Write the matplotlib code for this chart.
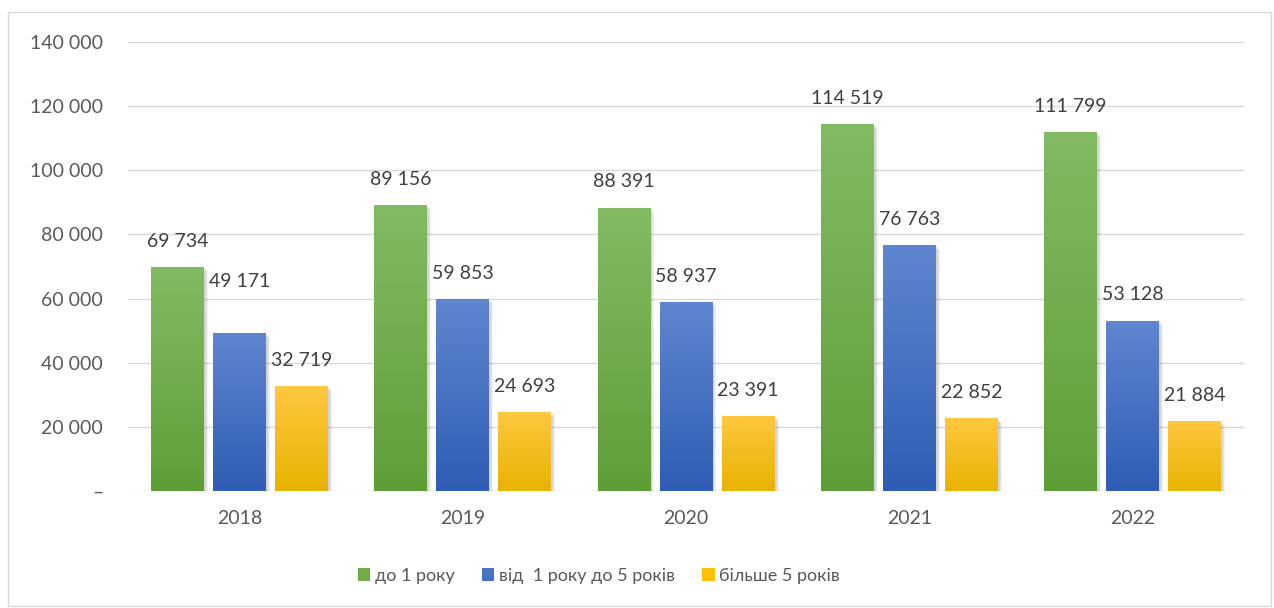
import numpy as np
import matplotlib
matplotlib.use('Agg')
import matplotlib.pyplot as plt
import matplotlib.patches as mpatches
import matplotlib.transforms as mtransforms
from matplotlib.colors import LinearSegmentedColormap
from matplotlib.ticker import FuncFormatter

# ------------------------------------------------------------------
# Daten
# ------------------------------------------------------------------
years = ['2018', '2019', '2020', '2021', '2022']
series_names = ['до 1 року', 'від  1 року до 5 років', 'більше 5 років']
do_1_roku = [69734, 89156, 88391, 114519, 111799]
vid_1_do_5 = [49171, 59853, 58937, 76763, 53128]
bilshe_5 = [32719, 24693, 23391, 22852, 21884]
values = [do_1_roku, vid_1_do_5, bilshe_5]

# Farbverlauf (oben -> unten) je Serie
gradients = [('#82bb63', '#5e9e36'),
             ('#5f86cf', '#2f5db5'),
             ('#ffc840', '#e8b300')]
legend_colors = ['#70ad47', '#4472c4', '#ffc000']

plt.rcParams['font.family'] = ['Lato', 'DejaVu Sans']

fig = plt.figure(figsize=(12.74, 6.08), dpi=100)
ax = fig.add_axes([0.1005, 0.1924, 0.876, 0.7385])

x = np.arange(len(years))
step = 0.278
width = 0.237

for i, (vals, (top, bottom)) in enumerate(zip(values, gradients)):
    pos = x + (i - 1) * step
    bars = ax.bar(pos, vals, width=width, color='none', zorder=3, label=series_names[i])
    cmap = LinearSegmentedColormap.from_list('g%d' % i, [bottom, top])
    for b, v in zip(bars, vals):
        x0 = b.get_x()
        # weicher Schatten rechts / unten
        for k, a in [(4, 0.10), (3, 0.12), (2, 0.14)]:
            off = mtransforms.offset_copy(ax.transData, fig=fig, x=k * 0.72, y=-k * 0.72, units='points')
            sh = mpatches.Rectangle((x0, 0), width, v, transform=off,
                                    facecolor='#808080', edgecolor='none', alpha=a, zorder=2)
            ax.add_patch(sh)
        grad = np.linspace(0, 1, 256).reshape(-1, 1)
        im = ax.imshow(grad, cmap=cmap, origin='lower', aspect='auto',
                       extent=[x0, x0 + width, 0, v], zorder=3)
        im.set_clip_path(b)
        # Datenbeschriftung
        dy = 18.5
        if i == 1 and v == 49171:
            dy = 37
        ax.annotate(f'{v:,}'.replace(',', ' '), (x0 + width / 2, v),
                    xytext=(0, dy), textcoords='offset points',
                    ha='center', va='center', fontsize=14, color='#404040', zorder=5)

ax.set_xlim(-0.5, 4.5)
ax.set_ylim(0, 140000)
ax.set_yticks(range(0, 140001, 20000))
ax.yaxis.set_major_formatter(FuncFormatter(lambda v, p: '–' if v == 0 else f'{int(v):,}'.replace(',', ' ')))
ax.set_xticks(x)
ax.set_xticklabels(years)
ax.tick_params(axis='both', length=0, labelsize=14, labelcolor='#595959')
ax.tick_params(axis='y', pad=18)
ax.tick_params(axis='x', pad=14)
ax.grid(axis='y', color='#d9d9d9', linewidth=1, zorder=0)
ax.set_axisbelow(True)
for s in ax.spines.values():
    s.set_visible(False)

# Legende
handles = [mpatches.Patch(facecolor=c, edgecolor='none') for c in legend_colors]
fig.legend(handles, series_names, loc='center', bbox_to_anchor=(0.47, 0.053), ncol=3,
           frameon=False, fontsize=13, labelcolor='#595959', handlelength=0.7,
           handleheight=0.7, handletextpad=0.25, columnspacing=1.5)

# Rahmen um das Diagramm
fig.patches.append(mpatches.Rectangle((0.006, 0.003), 0.992, 0.978, transform=fig.transFigure,
                                      fill=False, edgecolor='#d9d9d9', linewidth=1))

plt.savefig('out.png', dpi=100)
